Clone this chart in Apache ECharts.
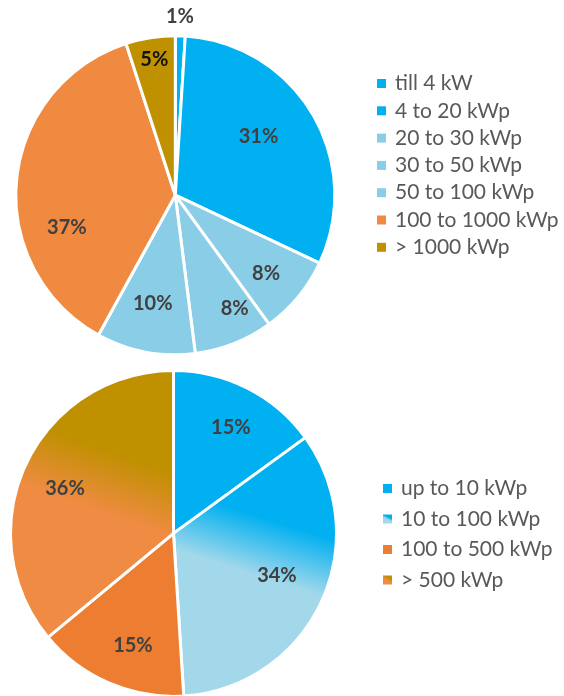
<!DOCTYPE html>
<html>
<head>
<meta charset="utf-8">
<script src="https://cdn.jsdelivr.net/npm/echarts@6/dist/echarts.min.js"></script>
<style>
html, body { margin: 0; padding: 0; background: #fff; }
#pv { width: 564px; height: 696px; }
</style>
</head>
<body>
<div id="pv"></div>
<script>
// shares of installed capacity (percent)
var topNames = ['till 4 kW', '4 to 20 kWp', '20 to 30 kWp', '30 to 50 kWp', '50 to 100 kWp', '100 to 1000 kWp', '> 1000 kWp'];
var topShares = [1, 31, 8, 8, 10, 37, 5];
var bottomNames = ['up to 10 kWp', '10 to 100 kWp', '100 to 500 kWp', '> 500 kWp'];
var bottomShares = [15, 34, 15, 36];

var topColors = ['#00B0F0', '#00B0F0', '#8ACDE7', '#8ACDE7', '#8ACDE7', '#F08A40', '#BF9000'];
var bottomColors = [
	'#00B0F0',
	{ type: 'linear', x: 0.645, y: 0.33, x2: 0.54, y2: 0.54,
		colorStops: [{ offset: 0, color: '#00B0F0' }, { offset: 1, color: '#A3D8EB' }] },
	'#ED7D31',
	{ type: 'linear', x: 0.64, y: 0.31, x2: 0.52, y2: 0.52,
		colorStops: [{ offset: 0, color: '#BF9000' }, { offset: 1, color: '#EF8B42' }] }
];

// nudges of the percent labels away from the default inner spot (px)
var topNudge = [[2, -96], [12, -17], [27, 26], [29, 36], [-7, 27], [-26, 40], [-8, -54]];
var bottomNudge = [[19, -31], [27, 6], [-7, 35], [-32, -9]];

var FONT = 'Lato, "Open Sans", sans-serif';

function buildData(names, shares, colors) {
	var out = [];
	for (var i = 0; i < names.length; i++) {
		var item = { name: names[i], value: shares[i], itemStyle: { color: colors[i] } };
		if (colors[i] === '#BF9000') {
			item.label = { color: '#111111' }; // dark text on the gold slice
		}
		out.push(item);
	}
	return out;
}

var pieLabel = {
	show: true,
	position: 'inside',
	formatter: '{c}%',
	color: '#404040',
	fontFamily: FONT,
	fontWeight: 'bold',
	fontSize: 20
};

var legendCommon = {
	orient: 'vertical',
	icon: 'rect',
	itemWidth: 9,
	itemHeight: 9,
	itemStyle: { borderWidth: 0 },
	selectedMode: false,
	textStyle: {
		color: '#595959',
		fontFamily: FONT,
		fontSize: 21,
		lineHeight: 21,
		padding: [0, 0, 0, 4]
	}
};

var chart = echarts.init(document.getElementById('pv'));
var option = {
	backgroundColor: '#ffffff',
	animation: false,
	legend: [
		Object.assign({}, legendCommon, { left: 372, top: 68, itemGap: 6.3, data: topNames }),
		Object.assign({}, legendCommon, { left: 378, top: 473, itemGap: 9.5, data: bottomNames })
	],
	series: [{
		type: 'pie',
		center: [175.3, 195.2],
		radius: [0, 159.5],
		startAngle: 90,
		clockwise: true,
		avoidLabelOverlap: false,
		itemStyle: { borderColor: '#ffffff', borderWidth: 3 },
		label: pieLabel,
		labelLine: { show: false },
		labelLayout: function (p) {
			var n = topNudge[p.dataIndex];
			return { dx: n[0], dy: n[1] };
		},
		emphasis: { disabled: true },
		data: buildData(topNames, topShares, topColors)
	}, {
		type: 'pie',
		center: [173.5, 533.4],
		radius: [0, 163],
		startAngle: 90,
		clockwise: true,
		avoidLabelOverlap: false,
		itemStyle: { borderColor: '#ffffff', borderWidth: 3 },
		label: pieLabel,
		labelLine: { show: false },
		labelLayout: function (p) {
			var n = bottomNudge[p.dataIndex];
			return { dx: n[0], dy: n[1] };
		},
		emphasis: { disabled: true },
		data: buildData(bottomNames, bottomShares, bottomColors)
	}]
};
chart.setOption(option);
</script>
</body>
</html>
